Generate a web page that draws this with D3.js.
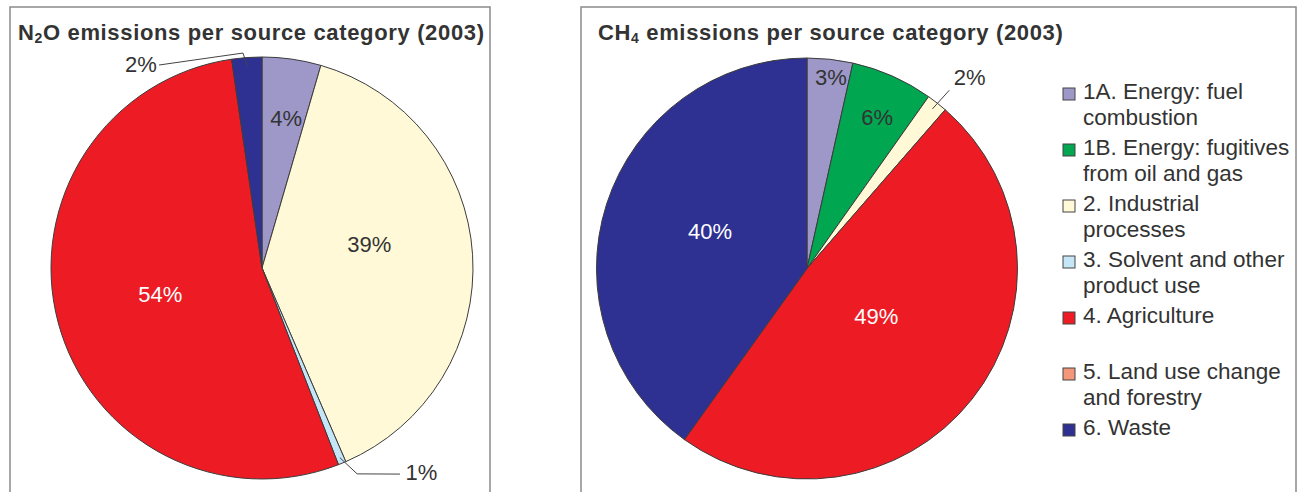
<!DOCTYPE html>
<html>
<head>
<meta charset="utf-8">
<script src="https://cdn.jsdelivr.net/npm/d3@7"></script>
<style>
  body { margin: 0; background: #fff; }
  svg { display: block; font-family: "Liberation Sans", Arial, sans-serif; }
</style>
</head>
<body>
<svg id="chart" width="1306" height="492"></svg>
<script>
// categories (shared legend) + colours
var categories = ["1A", "1B", "2", "3", "4", "5", "6"];
var legendLines = [
  ["1A. Energy: fuel", "combustion"],
  ["1B. Energy: fugitives", "from oil and gas"],
  ["2. Industrial", "processes"],
  ["3. Solvent and other", "product use"],
  ["4. Agriculture"],
  ["5. Land use change", "and forestry"],
  ["6. Waste"]
];
var colors = ["#9d98c8", "#00a650", "#fff9d7", "#c4e6f6", "#ed1c24", "#f4967a", "#2e3192"];

// shares in %
var n2oValues = [4.5, 0, 39.0, 0.6, 53.6, 0, 2.3];
var n2oLabels = ["4%", "", "39%", "1%", "54%", "", "2%"];
var ch4Values = [3.5, 6.3, 1.6, 0, 48.5, 0, 40.1];
var ch4Labels = ["3%", "6%", "2%", "", "49%", "", "40%"];

var svg = d3.select("#chart");
var textCol = "#333";

// panel frames
svg.append("rect").attr("x", 10).attr("y", 7).attr("width", 480).attr("height", 500)
  .attr("fill", "none").attr("stroke", "#8a8a8a").attr("stroke-width", 1.5);
svg.append("rect").attr("x", 581).attr("y", 7).attr("width", 715).attr("height", 500)
  .attr("fill", "none").attr("stroke", "#8a8a8a").attr("stroke-width", 1.5);

function title(x, pre, sub, post) {
  var t = svg.append("text").attr("x", x).attr("y", 40)
    .attr("font-size", "22px").attr("font-weight", "bold").attr("fill", textCol)
    .attr("letter-spacing", "0.65px");
  t.append("tspan").text(pre);
  t.append("tspan").attr("font-size", "14px").attr("dy", 3).text(sub);
  t.append("tspan").attr("dy", -3).text(post);
}
title(18, "N", "2", "O emissions per source category (2003)");
title(598, "CH", "4", " emissions per source category (2003)");

var rad = Math.PI / 180;

// label placement: [angle deg, radius px], white text on dark slices
function drawPie(cx, cy, r, values, labels, place) {
  var g = svg.append("g").attr("transform", "translate(" + cx + "," + cy + ")");
  var data = categories.map(function(c, i) { return {i: i, v: values[i], lab: labels[i]}; })
    .filter(function(d) { return d.v > 0; });
  var arcs = d3.pie().sort(null).value(function(d) { return d.v; })(data);
  var arc = d3.arc().innerRadius(0).outerRadius(r);

  g.selectAll("path.slice").data(arcs).enter().append("path")
    .attr("class", "slice")
    .attr("d", arc)
    .attr("fill", function(d) { return colors[d.data.i]; })
    .attr("stroke", "#3c3c3c").attr("stroke-width", 1);

  arcs.forEach(function(a) {
    var p = place[a.data.i];
    if (!p) return;
    var mid = (a.startAngle + a.endAngle) / 2;
    if (p.leader) {
      var pts = [d3.pointRadial(mid, p.leader[0])];
      p.leader.slice(1).forEach(function(q) { pts.push(d3.pointRadial(q[0] * rad, q[1])); });
      g.append("path").attr("d", d3.line()(pts))
        .attr("fill", "none").attr("stroke", "#444").attr("stroke-width", 1);
    }
    var pt = d3.pointRadial(p.at[0] * rad, p.at[1]);
    g.append("text")
      .attr("x", pt[0]).attr("y", pt[1] + 8)
      .attr("text-anchor", p.anchor || "middle")
      .attr("font-size", "22px")
      .attr("fill", p.white ? "#fff" : textCol)
      .text(a.data.lab);
  });
}

drawPie(262, 268, 211, n2oValues, n2oLabels, {
  0: {at: [9.1, 152]},
  2: {at: [77.4, 110]},
  3: {at: [142, 259], leader: [205, [155.2, 226.8], [146.2, 248]]},
  4: {at: [255.7, 105], white: true},
  6: {at: [329.3, 237], leader: [202, [354.95, 215.8], [333.1, 227.6]]}
});

drawPie(807, 268.5, 210.5, ch4Values, ch4Labels, {
  0: {at: [7.1, 193]},
  1: {at: [24.8, 167]},
  2: {at: [40.4, 251], leader: [203, [38.6, 228]]},
  4: {at: [124.5, 84], white: true},
  6: {at: [291.1, 104], white: true}
});

// legend
var leg = svg.append("g").attr("transform", "translate(1063,99)");
var item = leg.selectAll("g.item").data(legendLines).enter().append("g")
  .attr("class", "item")
  .attr("transform", function(d, i) { return "translate(0," + (i * 56) + ")"; });
item.append("rect").attr("x", 0).attr("y", -11).attr("width", 12).attr("height", 12)
  .attr("fill", function(d, i) { return colors[i]; })
  .attr("stroke", "#444").attr("stroke-width", 1);
item.append("text").attr("x", 20).attr("font-size", "22.5px").attr("fill", textCol)
  .selectAll("tspan").data(function(d) { return d; }).enter().append("tspan")
  .attr("x", 20).attr("dy", function(d, j) { return j ? 26 : 0; })
  .text(function(d) { return d; });
</script>
</body>
</html>
